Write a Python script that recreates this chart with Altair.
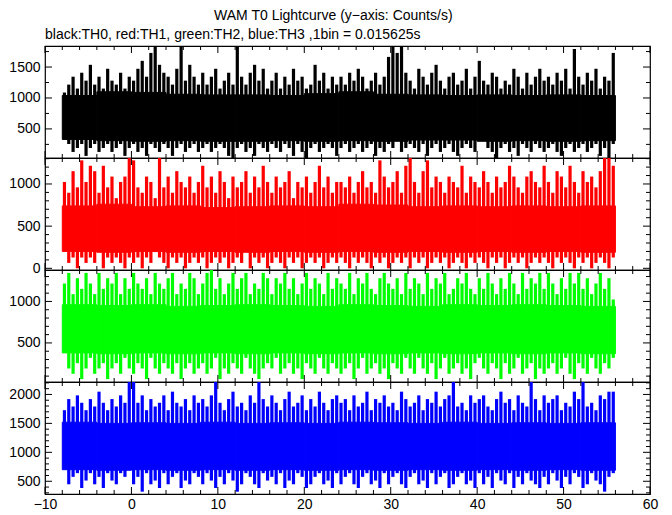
import numpy as np
import pandas as pd
import altair as alt

# time axis: 0.5 s envelope bins starting at -8 s, 4 s bins for the dense core
T_START = -8.0
BIN = 0.5
CORE_BIN = 4.0

# ---- TH0 (black): per-0.5 s max / min, and dense-core edges per 4 s ----
th0_hi = [1088, 1216, 1344, 1152, 1408, 1280, 1536, 1216, 1344, 1152, 1472, 1280, 1216, 1408, 1152, 1344,
          1280, 1472, 1600, 1344, 1728, 1856, 1536, 1408, 1344, 1216, 1472, 1856, 1280, 1536, 1344, 1216,
          1408, 1216, 1344, 1472, 1152, 1280, 1408, 1216, 1856, 1344, 1216, 1408, 1536, 1280, 1472, 1152,
          1280, 1408, 1152, 1344, 1216, 1472, 1280, 1344, 1152, 1216, 1536, 1280, 1408, 1152, 1344, 1216,
          1344, 1216, 1408, 1280, 1472, 1344, 1152, 1280, 1408, 1216, 1344, 1664, 1856, 1728, 1856, 1408,
          1280, 1152, 1472, 1344, 1216, 1408, 1536, 1280, 1152, 1344, 1408, 1216, 1280, 1472, 1152, 1344,
          1600, 1280, 1216, 1408, 1344, 1152, 1280, 1216, 1472, 1344, 1152, 1408, 1216, 1344, 1472, 1280,
          1344, 1216, 1408, 1280, 1472, 1152, 1792, 1344, 1216, 1408, 1280, 1472, 1152, 1344, 1280, 1728]
th0_lo = [448, 256, 128, 192, 256, 64, 192, 256, 128, 192, 256, 128, 192, 256, 64, 192,
          256, 128, 192, 64, 256, 192, 128, 256, 192, 64, 192, 256, 128, 192, 256, 128,
          192, 256, 128, 192, 256, 192, 64, 0, 192, 256, 128, 192, 64, 256, 192, 128,
          256, 192, 128, 256, 192, 64, 256, 128, 0, 192, 256, 128, 192, 256, 192, 64,
          192, 256, 128, 192, 256, 128, 192, 256, 64, 192, 128, 256, 192, 320, 128, 192,
          256, 192, 128, 256, 64, 192, 256, 128, 192, 256, 128, 64, 192, 256, 192, 128,
          320, 384, 192, 128, 0, 192, 256, 128, 192, 64, 256, 192, 128, 256, 192, 128,
          192, 256, 128, 64, 192, 256, 128, 192, 256, 128, 192, 256, 64, 192, 0, 256]
th0_core_hi = [1040, 1100, 1090, 1060, 1050, 1050, 1040, 1070, 1100, 1060, 1050, 1040, 1050, 1040, 1050, 1040]
th0_core_lo = [330, 310, 300, 310, 300, 300, 310, 300, 310, 300, 320, 320, 300, 310, 300, 310]

# ---- TH1 (red) ----
th1_hi = [1024, 896, 1152, 960, 1280, 1024, 1216, 1152, 896, 1216, 960, 1088, 832, 1024, 1088, 1344,
          1280, 960, 896, 1088, 1024, 832, 1344, 960, 1088, 896, 1152, 1024, 960, 1088, 896, 1024,
          1216, 960, 1088, 896, 1152, 1024, 832, 1088, 960, 1024, 1152, 896, 1088, 960, 1216, 1024,
          896, 1088, 960, 1024, 1152, 832, 1024, 960, 1088, 896, 1024, 1216, 960, 1088, 896, 1024,
          1024, 960, 1088, 896, 1024, 1152, 960, 1024, 896, 1280, 1088, 960, 1024, 1152, 896, 1216,
          1344, 1024, 896, 1152, 1280, 960, 1088, 1024, 896, 1088, 1024, 960, 1216, 896, 1088, 1024,
          960, 1152, 1024, 896, 1088, 960, 1024, 1216, 1088, 960, 896, 1088, 1152, 1024, 960, 1216,
          1024, 896, 1152, 1088, 960, 1216, 1024, 896, 1152, 1024, 1088, 960, 1152, 1344, 1344, 1216]
th1_lo = [320, 64, 128, 0, 128, 64, 128, 64, 192, 0, 128, 64, 128, 64, 0, 128,
          64, 128, 0, 128, 64, 192, 128, 64, 0, 128, 64, 128, 0, 64, 128, 64,
          128, 0, 64, 128, 64, 128, 0, 64, 128, 64, 192, 0, 128, 64, 128, 0,
          64, 128, 64, 0, 128, 64, 128, 0, 64, 128, 64, 128, 0, 64, 128, 64,
          128, 64, 0, 128, 64, 128, 64, 0, 128, 64, 128, 0, 64, 128, 64, 128,
          0, 128, 64, 128, 0, 64, 128, 64, 128, 0, 64, 128, 64, 0, 128, 64,
          128, 64, 0, 128, 64, 128, 0, 64, 128, 64, 128, 0, 64, 128, 64, 128,
          64, 0, 128, 64, 128, 64, 0, 128, 64, 128, 0, 64, 128, 64, 0, 128]
th1_core_hi = [740, 760, 730, 740, 720, 730, 740, 730, 760, 750, 730, 740, 730, 740, 730, 740]
th1_core_lo = [200, 190, 200, 190, 200, 190, 200, 190, 200, 190, 200, 190, 200, 190, 200, 190]

# ---- TH2 (green) ----
th2_hi = [1216, 1344, 1088, 1280, 1152, 1344, 1216, 1088, 1344, 1152, 1280, 1216, 1344, 1088, 1280, 1152,
          1344, 1216, 1152, 1280, 1088, 1344, 1216, 1152, 1280, 1344, 1088, 1216, 1152, 1344, 1280, 1088,
          1216, 1344, 1408, 1152, 1280, 1088, 1216, 1344, 1152, 1280, 1344, 1088, 1216, 1152, 1344, 1280,
          1088, 1280, 1216, 1344, 1152, 1280, 1088, 1216, 1344, 1152, 1280, 1216, 1088, 1344, 1152, 1280,
          1216, 1152, 1344, 1088, 1280, 1216, 1344, 1152, 1088, 1280, 1344, 1216, 1152, 1280, 1088, 1344,
          1152, 1280, 1216, 1088, 1344, 1152, 1280, 1216, 1344, 1088, 1152, 1280, 1216, 1344, 1152, 1088,
          1280, 1152, 1344, 1216, 1088, 1280, 1152, 1344, 1216, 1088, 1344, 1152, 1280, 1216, 1344, 1152,
          1344, 1216, 1088, 1280, 1152, 1344, 1216, 1344, 1152, 1280, 1088, 1216, 1344, 1152, 1280, 1024]
th2_lo = [384, 192, 128, 256, 64, 192, 320, 128, 192, 256, 64, 192, 256, 128, 320, 192,
          128, 256, 192, 64, 320, 192, 128, 256, 192, 128, 256, 64, 192, 256, 128, 192,
          256, 128, 192, 320, 64, 192, 128, 256, 192, 128, 320, 192, 128, 64, 192, 256,
          192, 320, 128, 192, 256, 128, 192, 64, 256, 192, 128, 320, 192, 128, 256, 192,
          128, 192, 256, 64, 192, 320, 128, 192, 256, 128, 192, 64, 256, 192, 128, 320,
          192, 128, 320, 192, 128, 256, 64, 192, 320, 128, 192, 256, 128, 192, 64, 256,
          320, 192, 128, 256, 192, 64, 256, 128, 192, 320, 128, 192, 256, 64, 192, 128,
          192, 256, 128, 192, 320, 128, 64, 256, 192, 128, 320, 192, 128, 256, 192, 320]
th2_core_hi = [960, 950, 960, 940, 950, 960, 950, 940, 960, 950, 940, 960, 950, 960, 950, 940]
th2_core_lo = [380, 370, 380, 370, 380, 370, 380, 370, 380, 370, 380, 370, 380, 370, 380, 370]

# ---- TH3 (blue) ----
th3_hi = [1728, 1920, 1792, 1984, 1856, 1728, 1920, 1792, 2048, 1856, 1728, 1920, 1792, 1984, 1856, 2240,
          2240, 1856, 1984, 1728, 1920, 1792, 1856, 1984, 1728, 2048, 1856, 1792, 1920, 1728, 1984, 1856,
          1920, 1792, 1984, 2240, 1856, 1728, 1920, 2048, 1792, 1856, 1728, 1984, 1856, 2240, 1920, 1792,
          1984, 1856, 1728, 1920, 2048, 1792, 1856, 1984, 1728, 1920, 1792, 2048, 1856, 1728, 1920, 1984,
          1856, 1920, 1728, 1984, 1792, 1856, 2048, 1728, 1920, 1856, 1984, 1792, 1856, 1728, 2048, 1920,
          1792, 1856, 1984, 1728, 1920, 1856, 2048, 1792, 1920, 1984, 2240, 1792, 1856, 1728, 1984, 1856,
          1920, 1984, 1792, 1728, 1920, 2048, 1856, 1920, 1728, 1984, 1856, 1792, 2240, 1920, 1728, 1984,
          1856, 1920, 1984, 1728, 1856, 1792, 2048, 1920, 2240, 1792, 1856, 1728, 1984, 1920, 2048, 2048]
th3_lo = [768, 448, 576, 640, 384, 512, 640, 448, 576, 384, 640, 512, 448, 640, 576, 832,
          448, 576, 320, 640, 448, 512, 384, 640, 448, 576, 640, 384, 512, 448, 640, 576,
          448, 640, 512, 384, 576, 448, 640, 512, 320, 448, 640, 576, 448, 384, 640, 512,
          576, 448, 640, 384, 512, 448, 640, 576, 384, 448, 576, 640, 448, 512, 384, 640,
          448, 576, 640, 448, 384, 576, 640, 448, 512, 384, 640, 448, 576, 640, 448, 384,
          576, 640, 448, 512, 384, 640, 448, 576, 640, 384, 448, 576, 640, 448, 512, 384,
          640, 448, 576, 384, 640, 512, 448, 640, 384, 576, 448, 640, 512, 448, 384, 576,
          448, 640, 512, 384, 576, 448, 640, 576, 384, 448, 640, 512, 448, 320, 576, 640]
th3_core_hi = [1520, 1500, 1510, 1500, 1520, 1500, 1510, 1500, 1520, 1510, 1500, 1520, 1500, 1510, 1500, 1510]
th3_core_lo = [700, 690, 700, 690, 700, 690, 700, 690, 700, 690, 700, 690, 700, 690, 700, 690]

# axis ranges / ticks
X_DOMAIN = [-10, 60]
X_MAJOR = list(range(-10, 61, 10))
X_MINOR = [v for v in range(-10, 61, 2) if v % 10]

TITLE = "WAM T0 Lightcurve (y\u2212axis: Counts/s)"
SUBTITLE = "black:TH0, red:TH1, green:TH2, blue:TH3 ,1bin = 0.015625s"

W, H = 605, 112
FONT = "Liberation Sans"
MAJ_LEN, MIN_LEN = 7, 4


def make_panel(hi, lo, chi, clo, color, ydom, ymajor, ystep, xlabels, title=None):
    t = T_START + BIN * (np.arange(len(hi)) + 0.5)
    spikes = pd.DataFrame({"t": t, "v": hi, "v2": lo})
    tc = T_START + CORE_BIN * np.arange(len(chi))
    core = pd.DataFrame({"t": tc, "t2": tc + CORE_BIN, "v": chi, "v2": clo})

    xscale = alt.Scale(domain=X_DOMAIN, nice=False, zero=False)
    yscale = alt.Scale(domain=ydom, nice=False, zero=False)
    if xlabels:
        xaxis = alt.Axis(values=X_MAJOR, format="d", ticks=False, domain=False, grid=False, title=None,
                         labelFont=FONT, labelFontSize=14, labelPadding=3, labelColor="black",
                         labelFlush=False)
    else:
        xaxis = None
    yaxis = alt.Axis(values=ymajor, format="d", ticks=False, domain=False, grid=False, title=None,
                     labelFont=FONT, labelFontSize=14, labelPadding=5, labelColor="black")
    X = alt.X("t:Q", scale=xscale, axis=xaxis)
    Y = alt.Y("v:Q", scale=yscale, axis=yaxis)

    layers = [
        alt.Chart(core).mark_rect(color=color, stroke=color, strokeWidth=1, clip=True)
        .encode(x=X, x2="t2:Q", y=Y, y2="v2:Q"),
        alt.Chart(spikes).mark_rule(color=color, strokeWidth=3.2, clip=True)
        .encode(x=X, y=Y, y2="v2:Q"),
    ]

    yminor = [v for v in range(0, 2400, ystep) if ydom[0] < v < ydom[1] and v not in ymajor]
    for vals, L in ((X_MAJOR, MAJ_LEN), (X_MINOR, MIN_LEN)):
        d = pd.DataFrame({"t": vals})
        layers.append(alt.Chart(d).mark_rule(color="black", strokeWidth=1)
                      .encode(x=X, y=alt.value(0), y2=alt.value(L)))
        layers.append(alt.Chart(d).mark_rule(color="black", strokeWidth=1)
                      .encode(x=X, y=alt.value(H), y2=alt.value(H - L)))
    for vals, L in ((ymajor, MAJ_LEN), (yminor, MIN_LEN)):
        d = pd.DataFrame({"v": vals})
        layers.append(alt.Chart(d).mark_rule(color="black", strokeWidth=1)
                      .encode(y=Y, x=alt.value(0), x2=alt.value(L)))
        layers.append(alt.Chart(d).mark_rule(color="black", strokeWidth=1)
                      .encode(y=Y, x=alt.value(W), x2=alt.value(W - L)))

    props = dict(width=W, height=H)
    if title is not None:
        props["title"] = title
    return alt.layer(*layers).properties(**props)


p1 = make_panel(th0_hi, th0_lo, th0_core_hi, th0_core_lo, "black", [30, 1840], [500, 1000, 1500], 250, False,
                title=alt.TitleParams(SUBTITLE, anchor="start", frame="group", font=FONT, fontSize=14,
                                      fontWeight="normal", color="black", offset=4))
p2 = make_panel(th1_hi, th1_lo, th1_core_hi, th1_core_lo, "#ff0000", [-20, 1308], [0, 500, 1000], 100, False)
p3 = make_panel(th2_hi, th2_lo, th2_core_hi, th2_core_lo, "#00ff00", [29, 1379], [500, 1000], 100, False)
p4 = make_panel(th3_hi, th3_lo, th3_core_hi, th3_core_lo, "#0000ff", [280, 2215], [500, 1000, 1500, 2000], 100, True)

chart = (
    alt.vconcat(p1, p2, p3, p4, spacing=0, bounds="flush")
    .properties(title=alt.TitleParams(TITLE, anchor="middle", font=FONT, fontSize=14,
                                      fontWeight="normal", color="black", offset=4),
                padding={"left": 0, "top": 0, "right": 0, "bottom": 0})
    .configure_view(stroke="black", strokeWidth=1.2)
)

chart.save("out.html", embed_options={"renderer": "svg", "actions": False})
